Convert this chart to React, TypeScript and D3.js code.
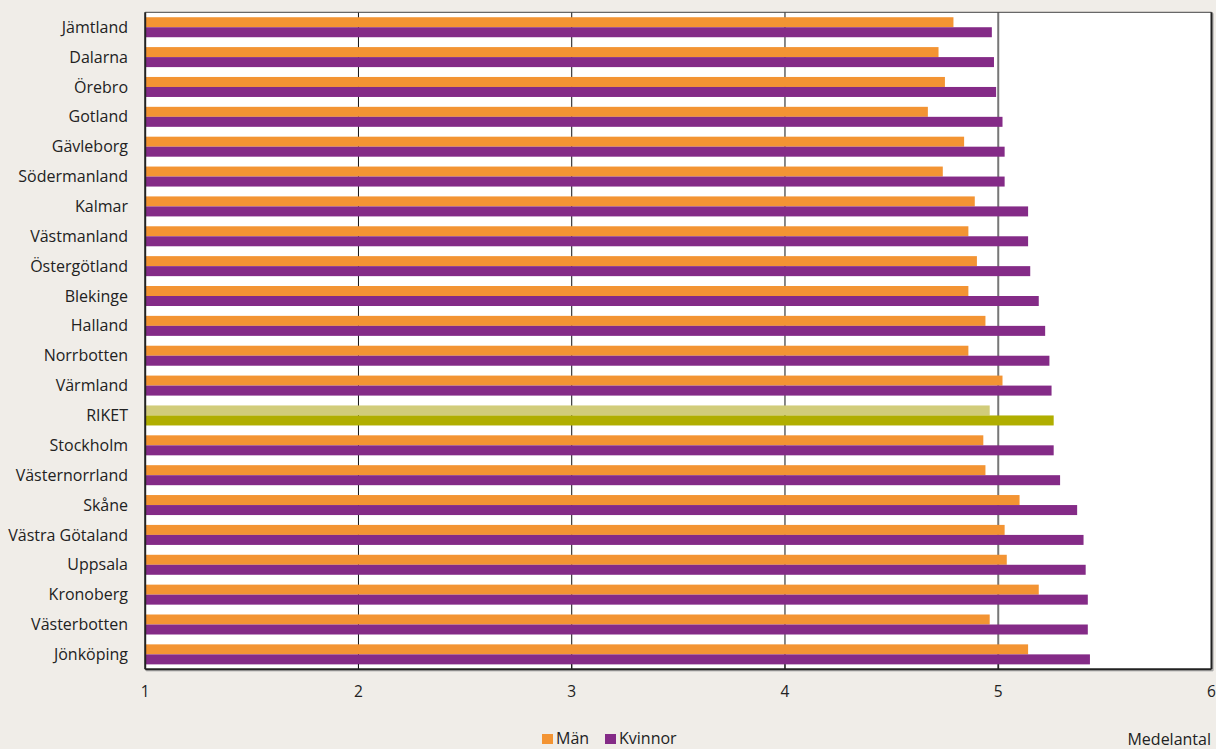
import React from "react";
import * as d3 from "d3";

// Counties (top to bottom) and mean values for men and women
const regions = [
  "Jämtland", "Dalarna", "Örebro", "Gotland", "Gävleborg", "Södermanland",
  "Kalmar", "Västmanland", "Östergötland", "Blekinge", "Halland", "Norrbotten",
  "Värmland", "RIKET", "Stockholm", "Västernorrland", "Skåne", "Västra Götaland",
  "Uppsala", "Kronoberg", "Västerbotten", "Jönköping",
];
const man = [
  4.79, 4.72, 4.75, 4.67, 4.84, 4.74,
  4.89, 4.86, 4.90, 4.86, 4.94, 4.86,
  5.02, 4.96, 4.93, 4.94, 5.10, 5.03,
  5.04, 5.19, 4.96, 5.14,
];
const kvinnor = [
  4.97, 4.98, 4.99, 5.02, 5.03, 5.03,
  5.14, 5.14, 5.15, 5.19, 5.22, 5.24,
  5.25, 5.26, 5.26, 5.29, 5.37, 5.40,
  5.41, 5.42, 5.42, 5.43,
];
const xTicks = [1, 2, 3, 4, 5, 6];
const seriesNames = ["Män", "Kvinnor"];
const axisTitle = "Medelantal";

const W = 1216;
const H = 749;
const M = { left: 145.2, right: 1211.5, top: 12.3, bottom: 669.3 };
const FONT = "'Open Sans', 'Noto Sans', sans-serif";
const C = {
  bg: "#F0EDE8",
  man: "#F39433",
  kvinnor: "#842B87",
  riketMan: "#D1CC7A",
  riketKv: "#B0AE00",
  text: "#222",
};

export default function App() {
  const x = d3.scaleLinear().domain([1, 6]).range([M.left, M.right]);
  const y = d3
    .scaleBand<string>()
    .domain(regions)
    .range([M.top, M.bottom])
    .paddingInner(0.33)
    .paddingOuter(0.165);
  const barH = y.bandwidth() / 2;

  return (
    <div style={{ position: "absolute", left: 0, top: 0 }}>
      <svg width={W} height={H} style={{ display: "block" }} fontFamily={FONT}>
        <rect x={0} y={0} width={W} height={H} fill={C.bg} />
        {/* plot area */}
        <rect x={M.left} y={M.top} width={M.right - M.left} height={M.bottom - M.top} fill="#fff" />
        {/* gridlines */}
        {xTicks.slice(1, -1).map((t) => (
          <line
            key={"g" + t}
            x1={x(t)}
            x2={x(t)}
            y1={M.top}
            y2={M.bottom}
            stroke={t === 5 ? "#777" : "#111"}
            strokeWidth={t === 5 ? 2 : 1}
          />
        ))}
        {/* bars */}
        {regions.map((r, i) => {
          const y0 = y(r)!;
          const riket = r === "RIKET";
          return (
            <g key={r}>
              <rect
                x={x(1)}
                y={y0}
                width={x(man[i]) - x(1)}
                height={barH}
                fill={riket ? C.riketMan : C.man}
              />
              <rect
                x={x(1)}
                y={y0 + barH}
                width={x(kvinnor[i]) - x(1)}
                height={barH}
                fill={riket ? C.riketKv : C.kvinnor}
              />
              <text
                x={128}
                y={y0 + barH}
                dy="0.35em"
                textAnchor="end"
                fontSize={16}
                fill={C.text}
              >
                {r}
              </text>
            </g>
          );
        })}
        {/* bottom tick marks */}
        {xTicks.slice(1, -1).map((t) => (
          <line key={"t" + t} x1={x(t)} x2={x(t)} y1={M.bottom} y2={M.bottom - 5} stroke="#111" strokeWidth={1} />
        ))}
        {/* frame with shadow */}
        <line x1={M.right + 1.5} x2={M.right + 1.5} y1={M.top + 1} y2={M.bottom + 1.5} stroke="#999" strokeWidth={1} />
        <line x1={M.left + 1} x2={M.right + 1.5} y1={M.bottom + 1.5} y2={M.bottom + 1.5} stroke="#999" strokeWidth={1} />
        <line x1={M.left} x2={M.right} y1={M.top} y2={M.top} stroke="#444" strokeWidth={1} />
        <line x1={M.right} x2={M.right} y1={M.top} y2={M.bottom} stroke="#222" strokeWidth={2} />
        <line x1={M.left} x2={M.right} y1={M.bottom} y2={M.bottom} stroke="#222" strokeWidth={2} />
        <line x1={M.left} x2={M.left} y1={M.top} y2={M.bottom} stroke="#222" strokeWidth={2} />
        {/* x tick labels */}
        {xTicks.map((t) => (
          <text key={"l" + t} x={x(t)} y={692} dy="0.35em" textAnchor="middle" fontSize={15.5} fill={C.text}>
            {t}
          </text>
        ))}
        {/* legend */}
        <rect x={542} y={734} width={11} height={10} fill={C.man} />
        <text x={556} y={744} fontSize={16} fill={C.text}>{seriesNames[0]}</text>
        <rect x={605} y={734} width={11} height={10} fill={C.kvinnor} />
        <text x={619} y={744} fontSize={16} fill={C.text}>{seriesNames[1]}</text>
        <text x={1211} y={745} textAnchor="end" fontSize={16} fill={C.text}>{axisTitle}</text>
      </svg>
    </div>
  );
}
